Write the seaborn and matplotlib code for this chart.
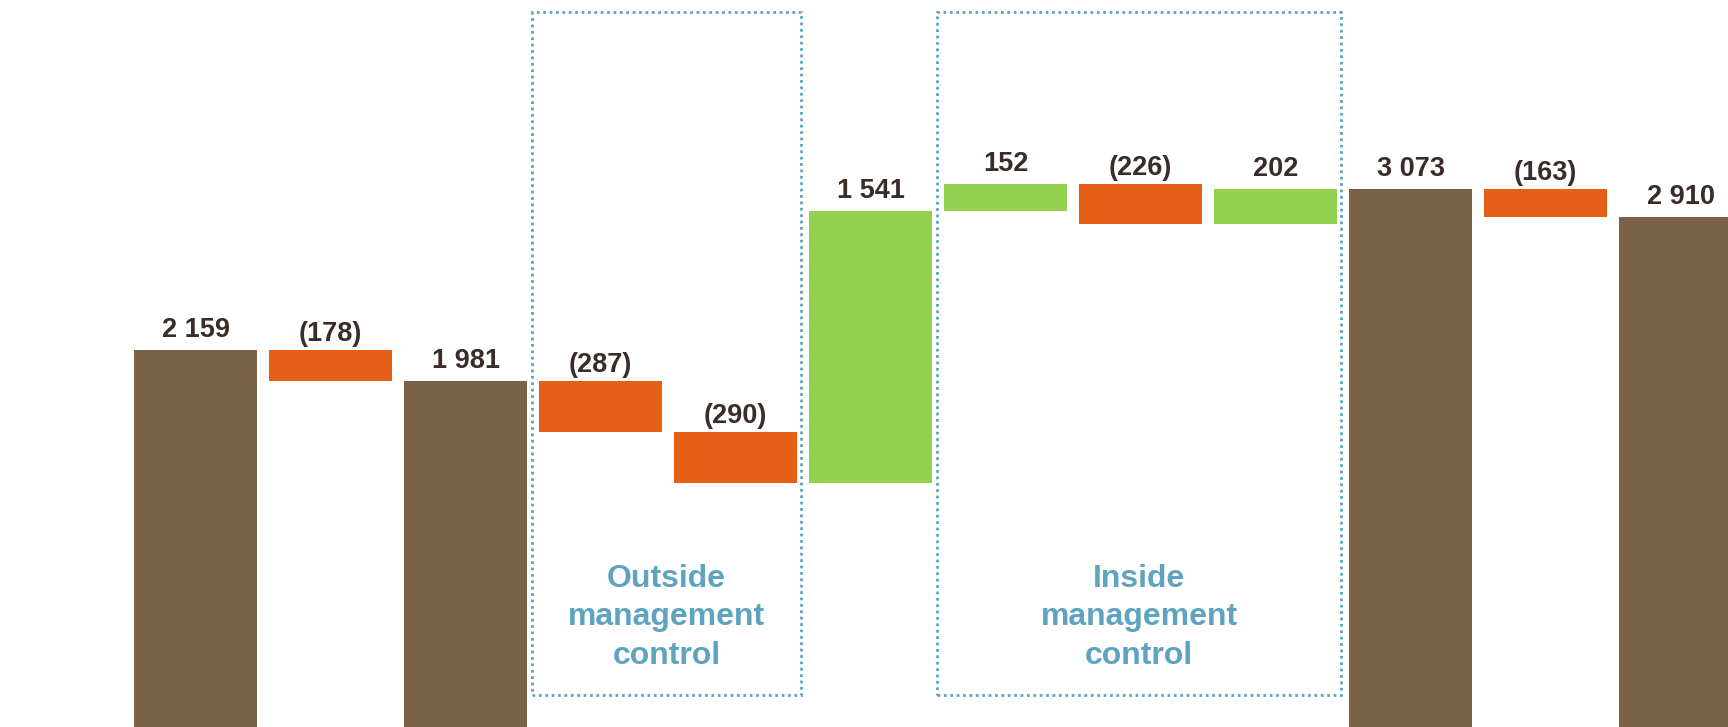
import matplotlib
matplotlib.use("Agg")
import matplotlib.pyplot as plt
from matplotlib.patches import Rectangle
import seaborn as sns

# Waterfall steps: totals are anchored at zero, deltas float on the running sum
steps = ["Opening", "Adj. A", "Base", "Ext. 1", "Ext. 2", "Ext. 3",
         "Int. 1", "Int. 2", "Int. 3", "Subtotal", "Adj. B", "Closing"]
kinds = ["total", "delta", "total", "delta", "delta", "delta",
         "delta", "delta", "delta", "total", "delta", "total"]
values = [2159, -178, 1981, -287, -290, 1541, 152, -226, 202, 3073, -163, 2910]

group_titles = ["Outside\nmanagement\ncontrol", "Inside\nmanagement\ncontrol"]
group_spans = [(3, 4), (6, 8)]  # first and last step index of each group

BROWN = "#7A6249"
ORANGE = "#E55F16"
GREEN = "#92D050"
LABEL = "#3A2C28"
BLUE = "#5EA3C0"

# floating bar geometry derived from the values
bottoms, heights, colors = [], [], []
running = 0
for kind, v in zip(kinds, values):
    if kind == "total":
        running = v
        bottoms.append(0)
        heights.append(v)
        colors.append(BROWN)
    else:
        lo = running + min(v, 0)
        bottoms.append(lo)
        heights.append(abs(v))
        running += v
        colors.append(GREEN if v > 0 else ORANGE)


def fmt(v):
    s = f"{abs(v):,}".replace(",", " ")
    return f"({s})" if v < 0 else s


sns.set_theme(style="white")
plt.rcParams["font.family"] = ["Liberation Sans", "DejaVu Sans"]

fig = plt.figure(figsize=(17.28, 7.27), dpi=100)
ax = fig.add_axes([0, 0, 1, 1])

sns.barplot(x=steps, y=heights, bottom=bottoms, width=0.91, color=BROWN,
            saturation=1, errorbar=None, ax=ax, linewidth=0)
for patch, c in zip(ax.patches, colors):
    patch.set_facecolor(c)
    patch.set_edgecolor("none")

ax.set_xlim(-1.448, 11.35)
ax.set_ylim(23, 4142)
ax.axis("off")

# value labels above each bar
for i, (b, h, v) in enumerate(zip(bottoms, heights, values)):
    top = b + h
    off = 9 if v < 0 and kinds[i] == "delta" else 13
    ax.annotate(fmt(v), (i, top), xytext=(0, off * 0.72), textcoords="offset points",
                ha="center", va="baseline", fontsize=19.5, fontweight="bold",
                color=LABEL)

# dotted group frames with captions
xt = ax.get_xaxis_transform()
for (first, last), title in zip(group_spans, group_titles):
    x0 = first - 0.505
    x1 = last + 0.485
    ax.add_patch(Rectangle((x0, 0.044), x1 - x0, 0.939, transform=xt,
                           fill=False, edgecolor=BLUE, linewidth=2.0,
                           linestyle=(0, (1, 1.3)), clip_on=False))
    ax.text((x0 + x1) / 2, 0.151, title, transform=xt, ha="center", va="center",
            fontsize=23, fontweight="bold", color=BLUE, linespacing=1.37)

fig.savefig("out.png", dpi=100)
